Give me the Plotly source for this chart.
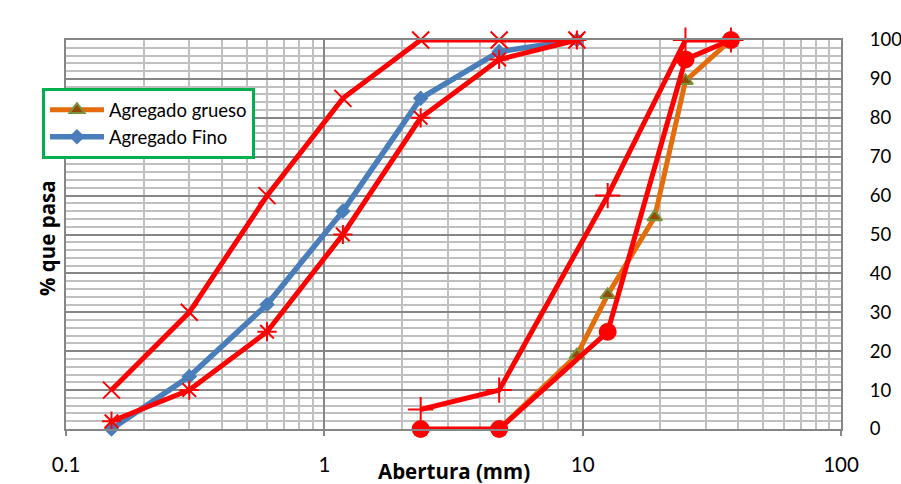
import plotly.graph_objects as go

# Sieve openings (mm)
fino_x = [0.15, 0.3, 0.6, 1.18, 2.36, 4.75, 9.5]
fino_y = [0, 13.5, 32, 56, 85, 97, 100]
fino_sup = [10, 30, 60, 85, 100, 100, 100]
fino_inf = [2, 10, 25, 50, 80, 95, 100]

grueso_x = [4.75, 9.5, 12.5, 19, 25, 37.5]
grueso_y = [0, 19, 34.5, 54.5, 89.5, 100]

g_sup_x = [2.36, 4.75, 12.5, 25, 37.5]
g_sup_y = [5, 10, 60, 100, 100]
g_inf_x = [2.36, 4.75, 12.5, 25, 37.5]
g_inf_y = [0, 0, 25, 95, 100]

x_ticks = [0.1, 1, 10, 100]
x_tick_text = ["0.1", "1", "10", "100"]
x_minor = [m * d for d in (0.1, 1, 10) for m in range(2, 10)]

FONT = "Lato"
TITLE_FONT = "Open Sans"
RED = "#FF0000"
BLUE = "#4A7EBB"
ORANGE = "#E46C0A"

fig = go.Figure()

fig.add_trace(go.Scatter(
    x=fino_x, y=fino_y, mode="lines+markers", name="Agregado Fino",
    line=dict(color=BLUE, width=5.5),
    marker=dict(symbol="diamond", size=12, color=BLUE),
    cliponaxis=False, legendrank=2))

fig.add_trace(go.Scatter(
    x=grueso_x, y=grueso_y, mode="lines+markers", name="Agregado grueso",
    line=dict(color=ORANGE, width=5),
    marker=dict(symbol="triangle-up", size=13, color="#984807",
                line=dict(color="#77933C", width=2)),
    cliponaxis=False, legendrank=1))

fig.add_trace(go.Scatter(
    x=fino_x, y=fino_sup, mode="lines+markers", showlegend=False,
    line=dict(color=RED, width=5),
    marker=dict(symbol="x-thin-open", size=17, color=RED, line=dict(color=RED, width=2)),
    cliponaxis=False))

fig.add_trace(go.Scatter(
    x=fino_x, y=fino_inf, mode="lines+markers", showlegend=False,
    line=dict(color=RED, width=5),
    marker=dict(symbol="asterisk-open", size=16, color=RED, line=dict(color=RED, width=2)),
    cliponaxis=False))

fig.add_trace(go.Scatter(
    x=g_sup_x, y=g_sup_y, mode="lines+markers", showlegend=False,
    line=dict(color=RED, width=5),
    marker=dict(symbol="cross-thin-open", size=18, color=RED, line=dict(color=RED, width=2)),
    cliponaxis=False))

fig.add_trace(go.Scatter(
    x=g_inf_x, y=g_inf_y, mode="lines+markers", showlegend=False,
    line=dict(color=RED, width=5),
    marker=dict(symbol="circle", size=18, color=RED),
    cliponaxis=False))

fig.update_layout(
    width=901, height=484,
    margin=dict(l=66, r=60, t=40, b=55, autoexpand=False),
    paper_bgcolor="white", plot_bgcolor="white",
    font=dict(family=FONT, size=18, color="#000000"),
    showlegend=True,
    legend=dict(x=-0.031, y=0.876, xanchor="left", yanchor="top",
                bgcolor="white", bordercolor="#00B050", borderwidth=3,
                itemwidth=54,
                font=dict(family=FONT, size=18.5), tracegroupgap=0),
    xaxis=dict(type="log", range=[-1, 2],
               tickmode="array", tickvals=x_ticks, ticktext=x_tick_text,
               tickfont=dict(family=FONT, size=20.5),
               ticks="outside", ticklen=5, tickcolor="#868686", tickwidth=2,
               ticklabelstandoff=11,
               showgrid=True, gridcolor="#868686", gridwidth=2,
               showline=True, linecolor="#868686", linewidth=2, mirror=True,
               minor=dict(tickmode="array", tickvals=x_minor, showgrid=True,
                          gridcolor="#C0C0C0", gridwidth=2, ticks=""),
               zeroline=False),
    yaxis=dict(range=[0, 100], side="right", dtick=10, tick0=0,
               tickfont=dict(family=FONT, size=18.5),
               ticks="", ticklabelstandoff=23,
               showgrid=True, gridcolor="#868686", gridwidth=2,
               showline=True, linecolor="#868686", linewidth=2, mirror=True,
               minor=dict(dtick=2, showgrid=True, gridcolor="#C0C0C0", gridwidth=2),
               zeroline=False),
    annotations=[
        dict(text="<b>Abertura (mm)</b>", xref="paper", yref="paper",
             x=0.5, y=-0.108, xanchor="center", yanchor="middle",
             showarrow=False, font=dict(family=TITLE_FONT, size=20.5)),
        dict(text="<b>% que pasa</b>", xref="paper", yref="paper",
             x=-0.0245, y=0.491, xanchor="center", yanchor="middle",
             textangle=-90, showarrow=False, font=dict(family=TITLE_FONT, size=20.5)),
    ],
)

fig.write_html(
    "out.html",
    config={"displayModeBar": False},
    post_script="document.body.style.margin='0px';document.body.style.overflow='hidden';",
)
